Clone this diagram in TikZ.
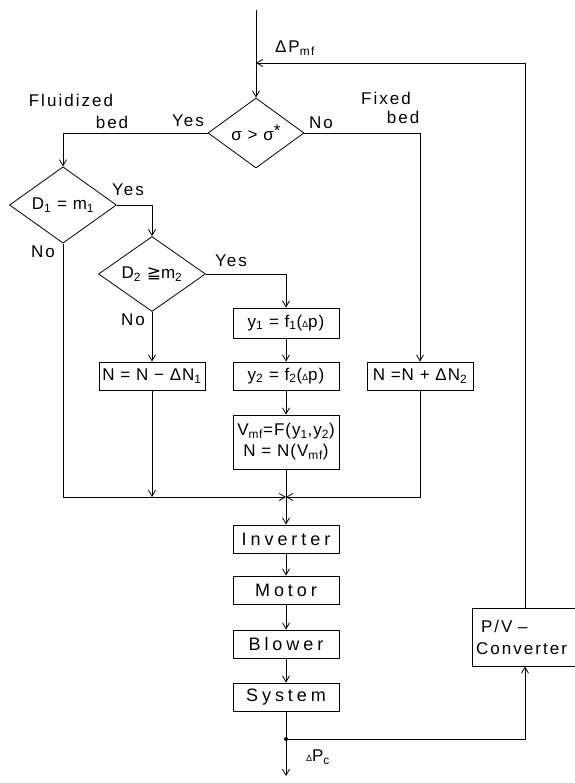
\documentclass[tikz,border=0pt]{standalone}
\usepackage{fontspec}
\setmainfont[LetterSpace=12]{Liberation Sans}
\newfontfamily\widefont[LetterSpace=22]{Liberation Sans}
\newfontfamily\tightfont[LetterSpace=6]{Liberation Sans}
\newfontfamily\symfont{DejaVu Sans}
\usetikzlibrary{arrows.meta,shapes.geometric,positioning}
\newcommand{\lo}[1]{\textsubscript{#1}}

\begin{document}
\begin{tikzpicture}[x=1pt,y=-1pt,line width=0.8pt,
  >={Straight Barb[length=6pt,width=7pt]},
  every node/.style={font=\fontsize{17}{20}\selectfont},
  block/.style={draw,rectangle,minimum width=106,minimum height=28,inner sep=2pt,
    font=\fontsize{18}{20}\widefont},
  formula/.style={font=\fontsize{17}{21}\tightfont},
  decision/.style={draw,diamond,inner sep=0pt,font=\fontsize{17}{20}\tightfont}]
  \useasboundingbox (0,0) rectangle (574,783);
  \coordinate (top) at (256,10);
  \coordinate (fb) at (256,63);
  \coordinate (jn) at (286,497);
  \coordinate (tap) at (286,739);
  \coordinate (out) at (286,776);
  % decisions
  \node[decision,minimum width=96,minimum height=70] (d0) at (256,133) {σ > σ\raisebox{0.45ex}{*}};
  \node[decision,minimum width=107,minimum height=70] (d1) at (63,205) {D\lo{1} = m\lo{1}};
  \node[decision,minimum width=107,minimum height=68] (d2) at (152,274) {D\lo{2} {\symfont ≧}m\lo{2}};
  % boxes
  \node[block,formula] (n1) at (152,376) {N = N − ΔN\lo{1}};
  \node[block,formula,minimum height=30] (y1) at (286,323) {y\lo{1} = f\lo{1}({\small Δ}p)};
  \node[block,formula] (y2) at (286,376) {y\lo{2} = f\lo{2}({\small Δ}p)};
  \node[block,formula,minimum height=54,align=center] (vmf) at (286,442) {V\lo{mf}=F(y\lo{1},y\lo{2})\\N = N(V\lo{mf})};
  \node[block,formula] (n2) at (420,376) {N =N + ΔN\lo{2}};
  \node[block] (inv) at (286,539) {Inverter};
  \node[block] (mot) at (286,590) {Motor};
  \node[block] (blo) at (286,644) {Blower};
  \node[block] (sys) at (286,697) {System};
  \node[block,font=\fontsize{17}{22}\selectfont,minimum height=58,inner sep=4pt,text width=98,align=left] (pv) at (525,637) {\hspace{5pt}P/V –\\Converter};
  % labels
  \node (lPmf) at (295,48) {ΔP\lo{mf}};
  \node (lFlu) at (71,100) {Fluidized};
  \node (lFluBed) at (112,122) {bed};
  \node (lYes0) at (188,121) {Yes};
  \node (lNo0) at (321,123) {No};
  \node (lFix) at (386,98) {Fixed};
  \node (lFixBed) at (403,117) {bed};
  \node (lYes1) at (128,190) {Yes};
  \node (lNo1) at (43,252) {No};
  \node (lYes2) at (231,261) {Yes};
  \node (lNo2) at (133,320) {No};
  \node (lPc) at (318,757) {{\small Δ}P\lo{c}};
  % connectors
  \draw[->] (top) -- (d0.north);
  \draw[->] (d0.west) -| (d1.north);
  \draw[->] (d0.east) -| (n2.north);
  \draw[->] (d1.east) -| (d2.north);
  \draw[->] (d2.east) -| (y1.north);
  \draw[->] (d2.south) -- (n1.north);
  \draw[->] (y1) -- (y2);
  \draw[->] (y2) -- (vmf);
  \draw[->] (d1.south) |- (jn);
  \draw[->] (n2.south) |- (jn);
  \draw (vmf.south) -- (jn);
  \draw[->] (n1.south) -- (n1.south |- jn);
  \draw[->] (jn) -- (inv);
  \draw[->] (inv) -- (mot);
  \draw[->] (mot) -- (blo);
  \draw[->] (blo) -- (sys);
  \draw (sys) -- (tap);
  \fill (tap) circle (2);
  \draw[->] (tap) -- (out);
  \draw[->] (tap) -| (pv.south);
  \draw[->] (pv.north) |- (fb);
\end{tikzpicture}
\end{document}
